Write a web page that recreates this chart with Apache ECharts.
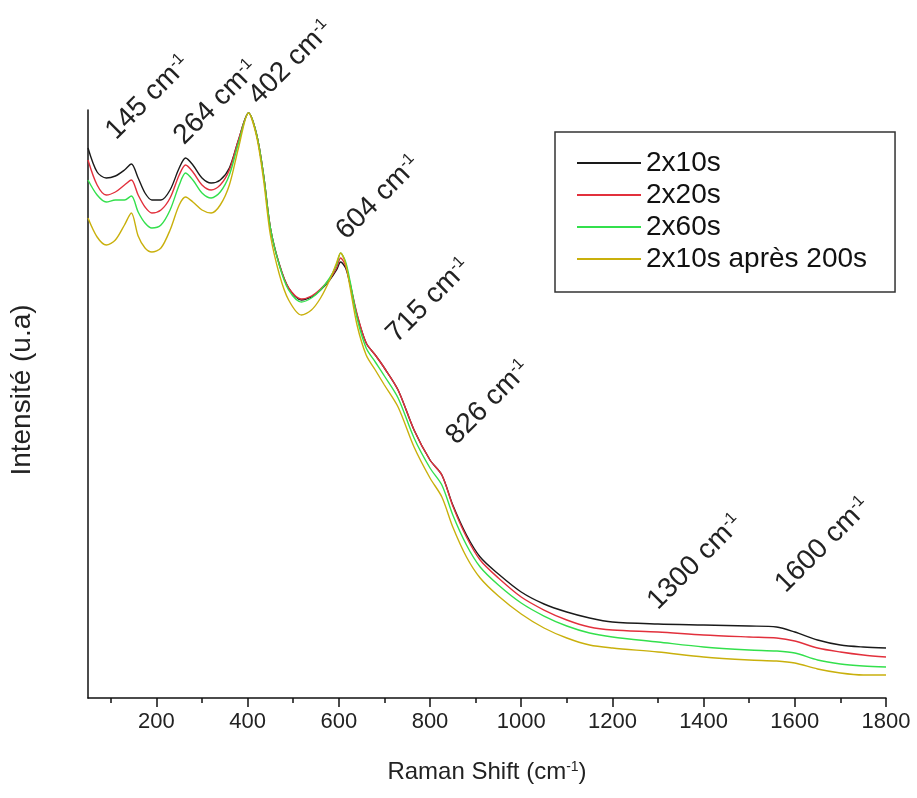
<!DOCTYPE html>
<html><head><meta charset="utf-8">
<script src="https://cdn.jsdelivr.net/npm/echarts@6/dist/echarts.min.js"></script>
<style>html,body{margin:0;padding:0;background:#fff}#c{width:917px;height:798px}</style>
</head><body><div id="c"></div>
<script>
// Raman shift (cm-1) sample positions
const ramanShift = [50,70,90,110,130,145,160,175,190,210,230,250,264,280,300,320,340,360,380,402,420,435,450,470,490,518,540,560,580,595,604,615,625,640,660,680,700,730,765,800,826,850,880,910,950,1000,1050,1100,1150,1200,1300,1400,1500,1560,1600,1650,1700,1750,1800];
// Intensities (arbitrary units)
const s2x10 = [550,526,520,522,528,534,520,505,498,498,508,530,540,533,520,515,518,530,558,585,563,523,470,433,410,398,401,408,418,428,436,430,413,383,355,343,330,308,268,238,223,193,163,141,124,106,94,86,80,76,74,73,72,71,66,58,53,51,50];
const s2x20 = [538,513,503,506,513,518,503,491,485,488,500,523,533,526,513,508,513,528,558,585,563,523,470,433,410,399,402,409,419,430,440,432,414,384,355,343,330,308,268,238,223,192,161,138,120,101,88,78,71,68,66,63,61,60,57,50,46,43,41];
const s2x60 = [518,503,496,498,498,502,486,475,470,473,488,513,525,518,505,500,506,523,555,585,563,523,470,432,408,396,400,408,420,433,445,436,416,380,350,336,322,300,260,230,213,183,153,131,113,95,82,72,65,61,56,51,48,47,45,38,34,32,31];
const s2x10after = [480,461,453,458,473,485,462,450,446,450,468,493,501,496,488,485,493,513,550,585,561,518,463,423,398,383,388,400,418,435,445,434,410,373,343,328,313,291,251,220,201,171,141,120,102,84,70,60,53,50,46,41,38,37,35,29,25,23,23];
const seriesNames = ['2x10s','2x20s','2x60s','2x10s après 200s'];
const peakLabels = ['145','264','402','604','715','826','1300','1600'];
const xTickLabels = [200,400,600,800,1000,1200,1400,1600,1800];
const xMinorTicks = [100,200,300,400,500,600,700,800,900,1000,1100,1200,1300,1400,1500,1600,1700,1800];

const FONT = 'Liberation Sans, Arial, Helvetica, sans-serif';
const colors = ['#1a1a1a','#e2303c','#33e04c','#c9b00c'];
const seriesData = [s2x10, s2x20, s2x60, s2x10after];
// label anchor positions (data units) for the peak annotations
const labelAnchors = [[95,558],[244,553],[408,593],[600,458],[710,355],[841,253],[1283,88],[1563,105]];

const chart = echarts.init(document.getElementById('c'));
const option = {
  animation:false,
  backgroundColor:'#fff',
  grid:{left:87,right:31,top:110,bottom:100,containLabel:false},
  xAxis:[{
    type:'value', min:50, max:1800, position:'bottom',
    axisLine:{show:true,onZero:false,lineStyle:{color:'#111',width:1.5}},
    axisTick:{show:true,customValues:xMinorTicks,length:5,inside:false,lineStyle:{color:'#111',width:1.5}},
    axisLabel:{show:true,customValues:xTickLabels,formatter:v=>String(v),fontSize:22,color:'#222',fontFamily:FONT,margin:13},
    splitLine:{show:false},
    name:'{n|Raman Shift (cm}{s|-1}{n|)}', nameLocation:'middle', nameGap:62,
    nameTextStyle:{rich:{n:{fontSize:24,color:'#222',fontFamily:FONT},s:{fontSize:14,color:'#222',fontFamily:FONT,verticalAlign:'top'}}}
  },{
    type:'value', min:50, max:1800, position:'bottom',
    axisLine:{show:false},
    axisTick:{show:true,customValues:xTickLabels,length:9,inside:false,lineStyle:{color:'#111',width:1.5}},
    axisLabel:{show:false},
    splitLine:{show:false}
  }],
  yAxis:{
    type:'value', min:0, max:588,
    axisLine:{show:true,onZero:false,lineStyle:{color:'#111',width:1.5}},
    axisTick:{show:false}, axisLabel:{show:false}, splitLine:{show:false},
    name:'Intensité (u.a)', nameLocation:'middle', nameGap:52, nameRotate:90,
    nameTextStyle:{fontSize:28,color:'#222',fontFamily:FONT,padding:[0,0,0,28]}
  },
  legend:{
    data:seriesNames, orient:'vertical', left:555, top:132,
    icon:'rect', padding:[17,28,19,22], itemWidth:64, itemHeight:2, itemGap:4,
    borderColor:'#333', borderWidth:1.5, backgroundColor:'#fff',
    textStyle:{fontSize:28,lineHeight:28,color:'#111',fontFamily:FONT}
  },
  series: seriesNames.map((n,i)=>({
    type:'line', name:n, xAxisIndex:0, yAxisIndex:0,
    data: ramanShift.map((x,j)=>[x, seriesData[i][j]]),
    symbol:'none', smooth:0.3,
    lineStyle:{color:colors[i],width:1.4}, itemStyle:{color:colors[i]}
  }))
};
chart.setOption(option);
const graphics = peakLabels.map((t,i)=>{
  const p = chart.convertToPixel({xAxisIndex:0,yAxisIndex:0}, labelAnchors[i]);
  return {type:'text', x:p[0]+12, y:p[1]+5, rotation:Math.PI/4, z:10,
    style:{text:'{n|'+t+' cm}{s|-1}', align:'left', verticalAlign:'bottom',
      rich:{n:{fontSize:28,fill:'#222',fontFamily:FONT},s:{fontSize:16,fill:'#222',fontFamily:FONT,verticalAlign:'top'}}}};
});
chart.setOption({graphic:graphics});
</script></body></html>
